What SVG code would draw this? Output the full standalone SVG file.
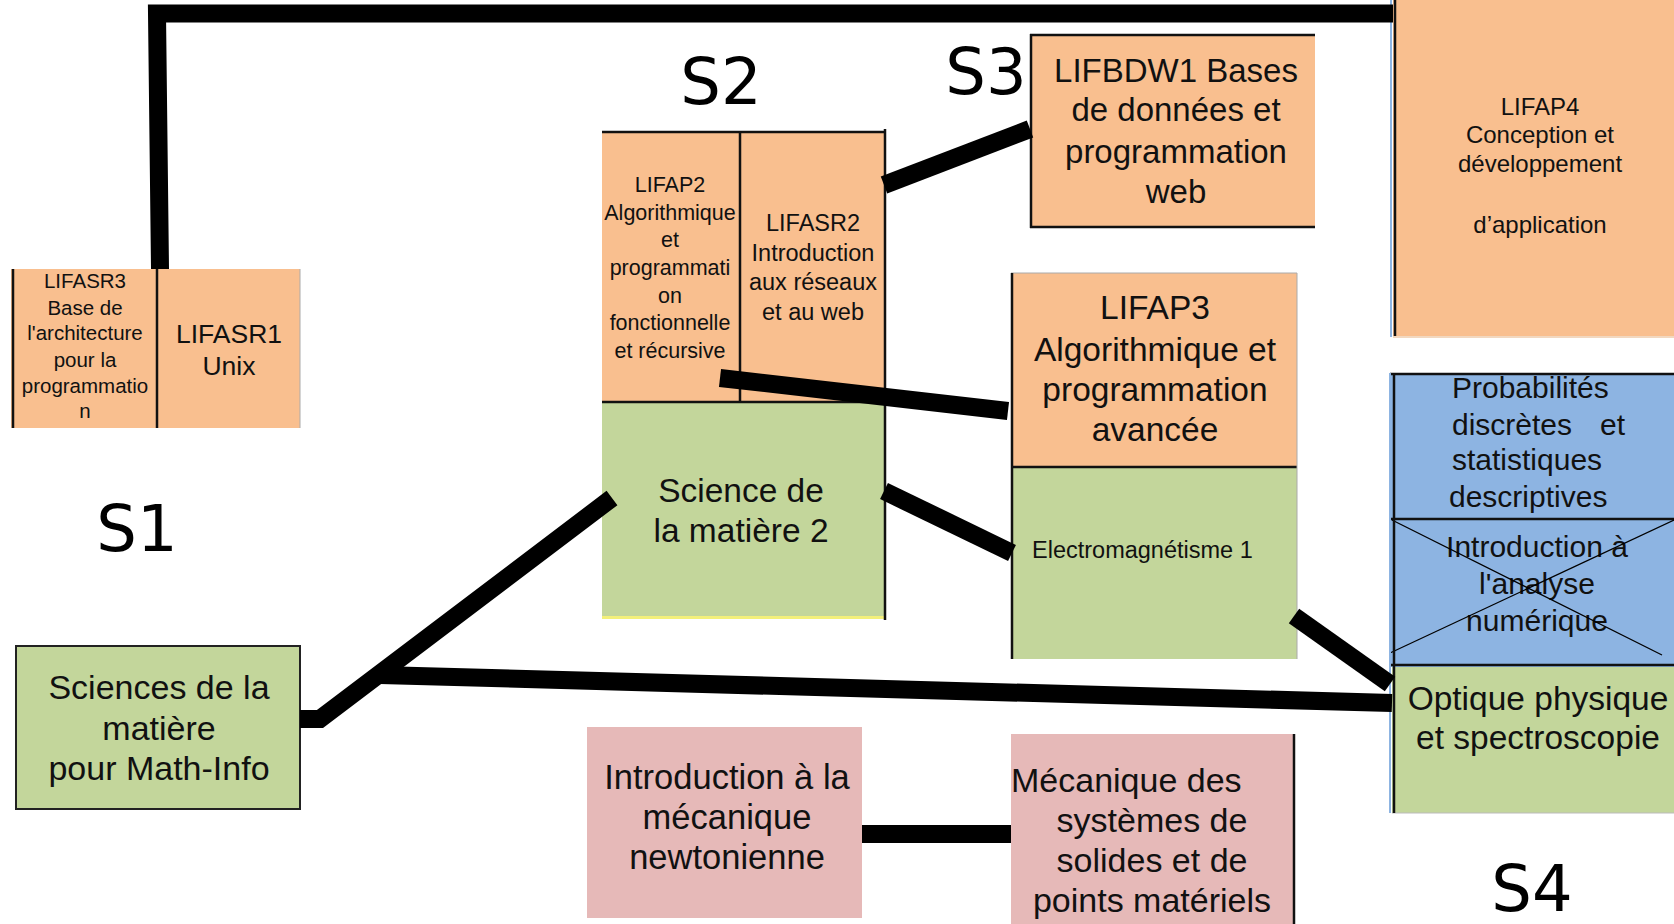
<svg xmlns="http://www.w3.org/2000/svg" width="1674" height="924" viewBox="0 0 1674 924">
<style>
.t{font-family:"Liberation Sans",Arial,sans-serif;fill:#111;text-anchor:middle}
.st{text-anchor:start}
.s{font-family:"DejaVu Sans",sans-serif;font-size:64px;fill:#000;text-anchor:middle}
.or{fill:#f9bf8f}
.gr{fill:#c3d69b}
.bl{fill:#8db4e2}
.pk{fill:#e6b9b8}
.bd{stroke:#111;stroke-width:2.5;fill:none}
.th{stroke:#aaa;stroke-width:1;fill:none}
.c{stroke:#000;fill:none;stroke-width:18;stroke-linejoin:miter}
</style>
<rect width="1674" height="924" fill="#fff"/>

<g id="labels">
<text class="s" x="137" y="551">S1</text>
<text class="s" x="721" y="104">S2</text>
<text class="s" x="986" y="94">S3</text>
<text class="s" x="1532" y="911">S4</text>
</g>

<g id="lifasr3">
<rect class="or" x="11" y="269" width="146" height="159"/>
<line class="bd" x1="13" y1="269" x2="13" y2="428" stroke-width="3"/>
<text class="t" font-size="20.5"><tspan x="85" y="288">LIFASR3</tspan><tspan x="85" y="315">Base de</tspan><tspan x="85" y="340">l'architecture</tspan><tspan x="85" y="367">pour la</tspan><tspan x="85" y="393">programmatio</tspan><tspan x="85" y="418">n</tspan></text>
</g>

<g id="lifasr1">
<rect class="or" x="157" y="269" width="143" height="159"/>
<line class="bd" x1="157" y1="269" x2="157" y2="428"/>
<line class="th" x1="300" y1="269" x2="300" y2="428"/>
<text class="t" font-size="26.5"><tspan x="229" y="343">LIFASR1</tspan><tspan x="229" y="375">Unix</tspan></text>
</g>

<g id="lifap2">
<rect class="or" x="602" y="131" width="138" height="271"/>
<text class="t" font-size="21.5"><tspan x="670" y="192">LIFAP2</tspan><tspan x="670" y="219.5">Algorithmique</tspan><tspan x="670" y="247">et</tspan><tspan x="670" y="275">programmati</tspan><tspan x="670" y="302.5">on</tspan><tspan x="670" y="330">fonctionnelle</tspan><tspan x="670" y="358">et récursive</tspan></text>
</g>

<g id="lifasr2">
<rect class="or" x="740" y="131" width="145" height="271"/>
<text class="t" font-size="23.5"><tspan x="813" y="231">LIFASR2</tspan><tspan x="813" y="261">Introduction</tspan><tspan x="813" y="290">aux réseaux</tspan><tspan x="813" y="320">et au web</tspan></text>
</g>

<g id="sdm2">
<rect class="gr" x="602" y="402" width="283" height="214"/>
<line x1="602" y1="617.5" x2="885" y2="617.5" stroke="#f3f07a" stroke-width="3"/>
<text class="t" font-size="33.5"><tspan x="741" y="502">Science de</tspan><tspan x="741" y="542">la matière 2</tspan></text>
</g>

<g id="s2-borders">
<line class="bd" x1="602" y1="132" x2="885" y2="132"/>
<line class="bd" x1="740" y1="131" x2="740" y2="402"/>
<line class="bd" x1="602" y1="402" x2="885" y2="402"/>
<line class="bd" x1="885" y1="129" x2="885" y2="620" stroke-width="2"/>
</g>

<g id="lifbdw1">
<rect class="or" x="1030" y="34" width="285" height="194"/>
<line class="bd" x1="1030" y1="35" x2="1315" y2="35" stroke-width="4"/>
<line class="bd" x1="1030" y1="227" x2="1315" y2="227" stroke-width="4"/>
<line class="bd" x1="1031" y1="34" x2="1031" y2="228"/>
<text class="t" font-size="33"><tspan x="1176" y="82">LIFBDW1 Bases</tspan><tspan x="1176" y="121">de données et</tspan><tspan x="1176" y="163">programmation</tspan><tspan x="1176" y="203">web</tspan></text>
</g>

<g id="lifap3">
<rect class="or" x="1011" y="273" width="286" height="194"/>
<line class="th" x1="1011" y1="273" x2="1297" y2="273"/>
<text class="t" font-size="33.5"><tspan x="1155" y="319">LIFAP3</tspan><tspan x="1155" y="361">Algorithmique et</tspan><tspan x="1155" y="401">programmation</tspan><tspan x="1155" y="441">avancée</tspan></text>
</g>

<g id="em1">
<rect class="gr" x="1011" y="467" width="286" height="192"/>
<line class="bd" x1="1011" y1="467" x2="1297" y2="467" stroke-width="2"/>
<line class="bd" x1="1012" y1="273" x2="1012" y2="659"/>
<line class="th" x1="1297" y1="273" x2="1297" y2="659"/>
<text class="t st" font-size="23.5" x="1032" y="558">Electromagnétisme 1</text>
</g>

<g id="lifap4">
<rect class="or" x="1393" y="0" width="281" height="337"/>
<line x1="1391" y1="0" x2="1391" y2="337" stroke="#8db4e2" stroke-width="2"/>
<line class="bd" x1="1395" y1="0" x2="1395" y2="337" stroke-width="3"/>
<line x1="1393" y1="337" x2="1674" y2="337" stroke="#f2d8c0" stroke-width="2"/>
<text class="t" font-size="24"><tspan x="1540" y="115">LIFAP4</tspan><tspan x="1540" y="143">Conception et</tspan><tspan x="1540" y="172">développement</tspan><tspan x="1540" y="233">d’application</tspan></text>
</g>

<g id="proba">
<rect class="bl" x="1390" y="373" width="284" height="147"/>
<line class="bd" x1="1390" y1="374" x2="1674" y2="374"/>
<text class="t st" font-size="30"><tspan x="1452" y="398">Probabilités</tspan><tspan x="1452" y="435">discrètes</tspan><tspan x="1600" y="435">et</tspan><tspan x="1452" y="470">statistiques</tspan><tspan x="1449" y="507">descriptives</tspan></text>
</g>

<g id="analyse">
<rect class="bl" x="1390" y="520" width="284" height="147"/>
<line class="bd" x1="1390" y1="519" x2="1674" y2="519"/>
<line class="bd" x1="1390" y1="665" x2="1674" y2="665" stroke-width="2"/>
<text class="t" font-size="30"><tspan x="1537" y="557">Introduction à</tspan><tspan x="1537" y="594">l'analyse</tspan><tspan x="1537" y="631">numérique</tspan></text>
<line x1="1392" y1="520" x2="1662" y2="655" stroke="#000" stroke-width="1.2"/>
<line x1="1390" y1="653" x2="1674" y2="520" stroke="#000" stroke-width="1.2"/>
</g>

<g id="optique">
<rect class="gr" x="1392" y="667" width="282" height="146"/>
<line x1="1392" y1="813" x2="1674" y2="813" stroke="#bbb" stroke-width="1"/>
<text class="t" font-size="33.5"><tspan x="1538" y="710">Optique physique</tspan><tspan x="1538" y="749">et spectroscopie</tspan></text>
</g>

<g id="s4-border">
<line x1="1390" y1="373" x2="1390" y2="813" stroke="#8db4e2" stroke-width="2"/>
<line class="bd" x1="1394" y1="373" x2="1394" y2="813"/>
</g>

<g id="sdm-mi">
<rect class="gr" x="16" y="646" width="284" height="163" stroke="#222" stroke-width="2"/>
<text class="t" font-size="34"><tspan x="159" y="699">Sciences de la</tspan><tspan x="159" y="740">matière</tspan><tspan x="159" y="780">pour Math-Info</tspan></text>
</g>

<g id="meca-newton">
<rect class="pk" x="587" y="727" width="275" height="191"/>
<text class="t" font-size="34.5"><tspan x="727" y="789">Introduction à la</tspan><tspan x="727" y="829">mécanique</tspan><tspan x="727" y="869">newtonienne</tspan></text>
</g>

<g id="meca-solides">
<rect class="pk" x="1011" y="734" width="283" height="190"/>
<line class="bd" x1="1294" y1="734" x2="1294" y2="924" stroke-width="2"/>
<text class="t" font-size="34"><tspan class="st" x="1011" y="792" text-anchor="start">Mécanique des</tspan><tspan x="1152" y="832">systèmes de</tspan><tspan x="1152" y="872">solides et de</tspan><tspan x="1152" y="912">points matériels</tspan></text>
</g>

<g id="connectors">
<polyline class="c" stroke-width="19" points="160,269 157,13.5 1393,13.5"/>
<line class="c" x1="720" y1="378" x2="1008" y2="411" stroke-width="17"/>
<line class="c" x1="884" y1="185" x2="1030" y2="129"/>
<line class="c" x1="884" y1="491" x2="1012" y2="553"/>
<polyline class="c" stroke-width="20" points="300,719 320,719 612,498"/>
<line class="c" x1="380" y1="675" x2="1392" y2="703" stroke-width="17"/>
<line class="c" x1="1294" y1="616" x2="1390" y2="684"/>
<line class="c" x1="862" y1="834" x2="1011" y2="834"/>
</g>
</svg>
